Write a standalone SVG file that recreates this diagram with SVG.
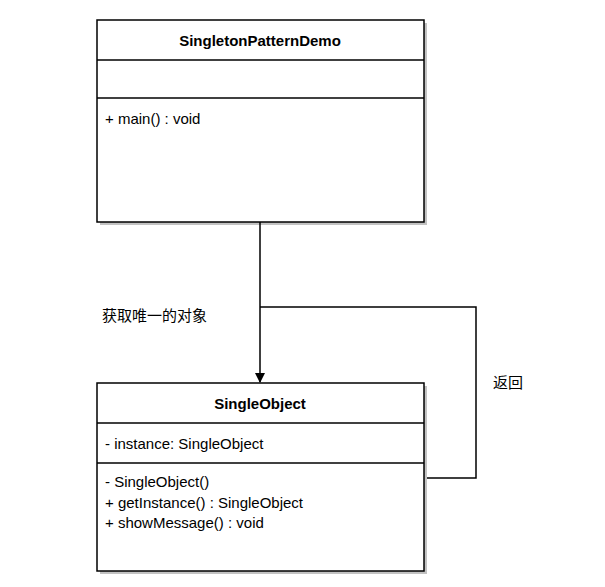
<svg xmlns="http://www.w3.org/2000/svg" width="605" height="587" viewBox="0 0 605 587">
<style>
.box{fill:#fff;stroke:#000;stroke-width:1.5}
.sh{fill:#999;opacity:0.6}
.ln{stroke:#000;stroke-width:1.5;fill:none}
.t{font-family:"Liberation Sans",Arial,sans-serif;font-size:15px;fill:#000}
.b{font-weight:bold;text-anchor:middle}
.cn{font-family:"Liberation Sans","Noto Sans CJK SC",sans-serif;font-size:15px}
</style>
<defs><marker id="ar" markerWidth="10" markerHeight="10" refX="9" refY="5" orient="auto" markerUnits="userSpaceOnUse"><path d="M0,0 L10,5 L0,10 Z" fill="#000"/></marker></defs>
<rect width="605" height="587" fill="#fff"/>
<g id="SingletonPatternDemo">
<rect class="sh" x="100" y="23" width="327" height="202"/>
<rect class="box" x="97" y="20" width="327" height="202"/>
<line class="ln" x1="97" y1="60" x2="424" y2="60"/>
<line class="ln" x1="97" y1="98" x2="424" y2="98"/>
<text class="t b" x="260" y="46">SingletonPatternDemo</text>
<text class="t" x="105" y="124">+ main() : void</text>
</g>
<g id="SingleObject">
<rect class="sh" x="100" y="386" width="327" height="188"/>
<rect class="box" x="97" y="383" width="327" height="188"/>
<line class="ln" x1="97" y1="423" x2="424" y2="423"/>
<line class="ln" x1="97" y1="463" x2="424" y2="463"/>
<text class="t b" x="260" y="409">SingleObject</text>
<text class="t" x="105" y="449">- instance: SingleObject</text>
<text class="t" x="105" y="487">- SingleObject()</text>
<text class="t" x="105" y="508">+ getInstance() : SingleObject</text>
<text class="t" x="105" y="528">+ showMessage() : void</text>
</g>
<g id="connectors">
<line class="ln" x1="260" y1="222" x2="260" y2="382" marker-end="url(#ar)"/>
<polyline class="ln" points="427,478 476,478 476,307 260,307"/>
<text class="t cn" x="102" y="321">获取唯一的对象</text>
<text class="t cn" x="493" y="388">返回</text>
</g>
</svg>
